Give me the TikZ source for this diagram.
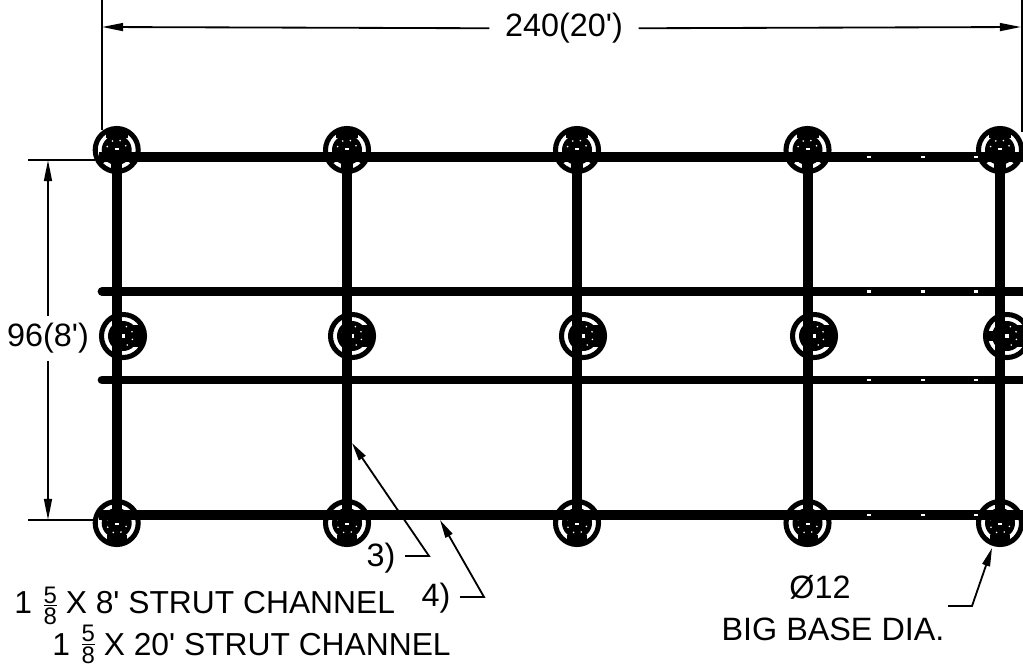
\documentclass[tikz,border=0pt]{standalone}
\usepackage{fontspec}
\setmainfont{Liberation Sans}
\usetikzlibrary{arrows.meta}
\newcommand{\hubcore}[1]{%
\begin{scope}[shift={(path picture bounding box.center)}]
\fill (0,0) circle (15);
#1
\foreach \ang in {20,65,110,155,200,245,290,335} \fill [white] (\ang:10) circle (0.9);
\fill [white] (-2,-2) rectangle (2,2);
\end{scope}}
\newcommand{\fivesix}[1]{\kern2pt\raisebox{#1}{$\vcenter{\offinterlineskip\fontsize{17}{17}\selectfont
\hbox to 9.5pt{\hss 5\hss}\kern1.2pt\hrule height 0.8pt\kern1.2pt\hbox to 9.5pt{\hss 8\hss}}$}}
\newcommand{\tick}{\textquotesingle}
\tikzset{
hub/.style={shape=circle,draw,line width=3.6pt,minimum size=1.075cm,inner sep=0pt},
tophub/.style={hub,path picture={\hubcore{\fill (-11,-24) rectangle (11,-12);\draw [line width=8pt] (0,0) -- (0,24);\draw [line width=2pt] (0,0) -- (40:24) (0,0) -- (140:24);}}},
bothub/.style={hub,path picture={\hubcore{\fill (-10,12) rectangle (10,24);\draw [line width=2pt] (0,0) -- (-35:24) (0,0) -- (-145:24);}}},
midhub/.style={hub,path picture={\hubcore{\draw [line width=15pt] (0,0) -- (24,0);}}},
endhub/.style={hub,path picture={\hubcore{\draw [line width=15pt] (0,0) -- (24,0);\fill (-20,-5) rectangle (0,5);}}},
post/.style={line width=7.1pt},
rail/.style={line width=7.1pt},
midrail/.style={line width=6.2pt,line cap=round},
slot/.style={shape=rectangle,fill=white,minimum width=2.6pt,minimum height=1.5pt,inner sep=0pt},
dim/.style={line width=1.3pt},
dimtip/.style={dim,-{Triangle[length=15pt,width=5.6pt]}},
pointer/.style={line width=1.3pt,-{Triangle[length=13pt,width=5.6pt]}},
lbl/.style={font=\fontsize{23}{27}\selectfont,inner sep=0pt},
note/.style={font=\fontsize{22.6}{27}\selectfont,inner sep=0pt,anchor=base west}
}
\begin{document}
\begin{tikzpicture}[x=0.025cm,y=-0.025cm]
\useasboundingbox (0,0) rectangle (1023,664);
\clip (0,0) rectangle (1023,664);
\path
(102,0) coordinate (xa) (102,130) coordinate (xb)
(1022,0) coordinate (xc) (1022,132) coordinate (xd)
(28,160) coordinate (ya) (95,160) coordinate (yb)
(28,520) coordinate (yc) (95,520) coordinate (yd)
(102,27) coordinate (wa) (1021,27) coordinate (wb)
(48,160) coordinate (ha) (48,520) coordinate (hb);
\draw [dim](xa) --(xb);
\draw [dim](xc) --(xd);
\draw [dim](ya) --(yb);
\draw [dim](yc) --(yd);
\path
(116.7,150) node [tophub](a) {}
(347,150) node [tophub](b) {}
(577,150) node [tophub](c) {}
(807.5,150) node [tophub](d) {}
(1000,150) node [tophub](e) {}
(123,336) node [midhub](f) {}
(352,336) node [midhub](g) {}
(583,336) node [midhub](h) {}
(814,336) node [midhub](i) {}
(1007,336) node [endhub](j) {}
(116.7,523) node [bothub](k) {}
(347,523) node [bothub](l) {}
(577,523) node [bothub](m) {}
(807.5,523) node [bothub](n) {}
(1000,523) node [bothub](o) {};
\draw [post](a.center) --(k.center);
\draw [post](b.center) --(l.center);
\draw [post](c.center) --(m.center);
\draw [post](d.center) --(n.center);
\draw [post](e.center) --(o.center);
\path
(99,157) coordinate (ra) (1023,157) coordinate (rb)
(102,291.5) coordinate (rc) (1026,291.5) coordinate (rd)
(102,380) coordinate (re) (1026,380) coordinate (rf)
(99,515) coordinate (rg) (1023,515) coordinate (rh);
\draw [pointer] (405,556) coordinate (pa) --(429,556) coordinate (pb) --(352,443) coordinate (pc);
\draw [pointer] (460,597) coordinate (qa) --(484,597) coordinate (qb) --(440,520) coordinate (qc);
\draw [rail](ra) --(rb);
\draw [midrail](rc) --(rd);
\draw [midrail](re) --(rf);
\draw [rail](rg) --(rh);
\path
(869,157) node [slot](s1) {} (923,157) node [slot](s2) {} (976,157) node [slot](s3) {}
(869,291.5) node [slot](s4) {} (923,291.5) node [slot](s5) {} (976,291.5) node [slot](s6) {}
(869,380) node [slot](s7) {} (923,380) node [slot](s8) {} (976,380) node [slot](s9) {}
(869,515) node [slot](s10) {} (923,515) node [slot](s11) {} (976,515) node [slot](s12) {};
\node [lbl,inner xsep=11pt](wide) at (564,28.5) {240(20\tick)};
\node [lbl,inner ysep=5pt](high) at (48,338.5) {96(8\tick)};
\draw [dimtip](wide) --(wa);
\draw [dimtip](wide) --(wb);
\draw [dimtip](high) --(ha);
\draw [dimtip](high) --(hb);
\node [lbl](three) at (381,558) {3)};
\node [lbl](four) at (436,598) {4)};
\node [note](eight) at (14,613) {1 \fivesix{0pt}\ X 8\tick\ STRUT CHANNEL};
\node [note](twenty) at (52,655) {1 \fivesix{2.5pt}\ X 20\tick\ STRUT CHANNEL};
\node [lbl](dia) at (820,587) {Ø12};
\node [lbl](base) at (833,629) {BIG BASE DIA.};
\draw [pointer] (948,606) coordinate (ta) --(972,606) coordinate (tb) --(992,548) coordinate (tc);
\end{tikzpicture}
\end{document}
